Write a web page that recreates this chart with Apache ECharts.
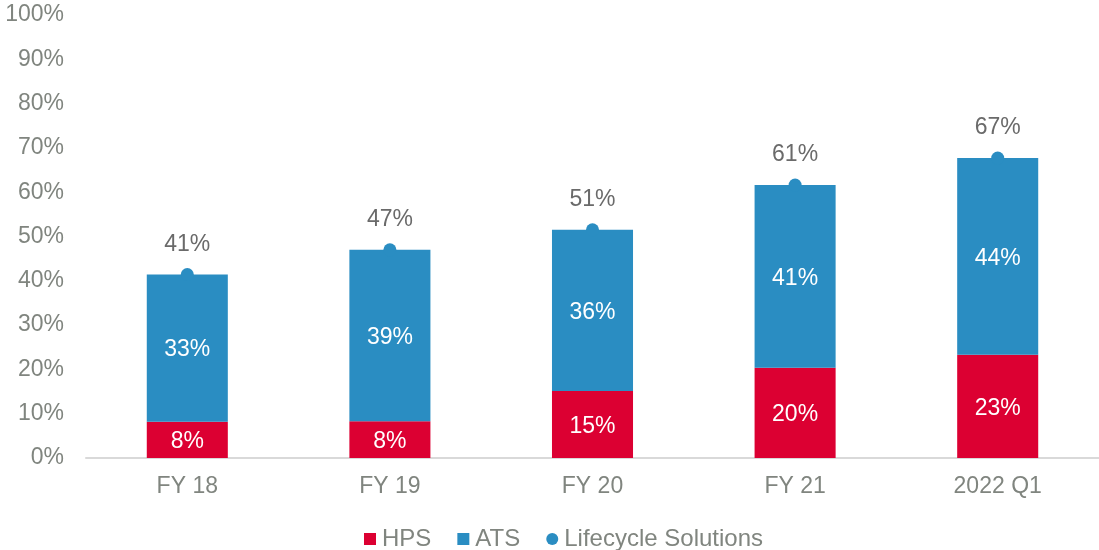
<!DOCTYPE html>
<html>
<head>
<meta charset="utf-8">
<script src="https://cdn.jsdelivr.net/npm/echarts@6/dist/echarts.min.js"></script>
<style>
html,body{margin:0;padding:0;background:#fff;}
#chart{width:1099px;height:550px;}
</style>
</head>
<body>
<div id="chart"></div>
<script>
const categories = ['FY 18', 'FY 19', 'FY 20', 'FY 21', '2022 Q1'];
const hps = [8.2, 8.3, 15.1, 20.4, 23.3];
const ats = [33.2, 38.7, 36.4, 41.2, 44.4];
const lifecycle = [41.4, 47.0, 51.5, 61.6, 67.7];

const FONT = '"Liberation Sans", Arial, sans-serif';
const RED = '#DC0032';
const BLUE = '#2A8DC2';
const GRAY = '#80857F';

const chart = echarts.init(document.getElementById('chart'));
chart.setOption({
  animation: false,
  textStyle: { fontFamily: FONT },
  grid: { left: 86, right: 0, top: 15, bottom: 92, containLabel: false },
  legend: {
    top: 522,
    left: 359,
    itemWidth: 12,
    itemHeight: 12,
    itemGap: 26,
    textStyle: { fontFamily: FONT, fontSize: 24, color: GRAY, padding: [0, 0, 0, 1] },
    data: [
      { name: 'HPS', icon: 'rect' },
      { name: 'ATS', icon: 'rect' },
      { name: 'Lifecycle Solutions', icon: 'circle' }
    ]
  },
  xAxis: {
    type: 'category',
    data: categories,
    axisLine: { lineStyle: { color: '#D9D9D9', width: 2 } },
    axisTick: { show: false },
    axisLabel: { fontFamily: FONT, fontSize: 23, color: GRAY, margin: 17 }
  },
  yAxis: {
    type: 'value',
    min: 0,
    max: 100,
    interval: 10,
    splitLine: { show: false },
    axisLine: { show: false },
    axisTick: { show: false },
    axisLabel: { fontFamily: FONT, fontSize: 23, color: GRAY, margin: 22, formatter: v => v + '%' }
  },
  series: [
    {
      name: 'HPS',
      type: 'bar',
      stack: 'total',
      barWidth: '40%',
      data: hps,
      itemStyle: { color: RED },
      label: {
        show: true, position: 'inside', offset: [0, 2], color: '#fff', fontSize: 23, fontFamily: FONT,
        formatter: p => Math.round(p.value) + '%'
      }
    },
    {
      name: 'ATS',
      type: 'bar',
      stack: 'total',
      barWidth: '40%',
      data: ats,
      itemStyle: { color: BLUE },
      label: {
        show: true, position: 'inside', offset: [0, 2], color: '#fff', fontSize: 23, fontFamily: FONT,
        formatter: p => Math.round(p.value) + '%'
      }
    },
    {
      name: 'Lifecycle Solutions',
      type: 'scatter',
      data: lifecycle,
      symbol: 'circle',
      symbolSize: 13,
      z: 5,
      itemStyle: { color: BLUE, opacity: 1 },
      label: {
        show: true, position: 'top', distance: 12, color: '#6A6A6A', fontSize: 23, fontFamily: FONT,
        formatter: p => Math.floor(p.value) + '%'
      }
    }
  ]
});
</script>
</body>
</html>
